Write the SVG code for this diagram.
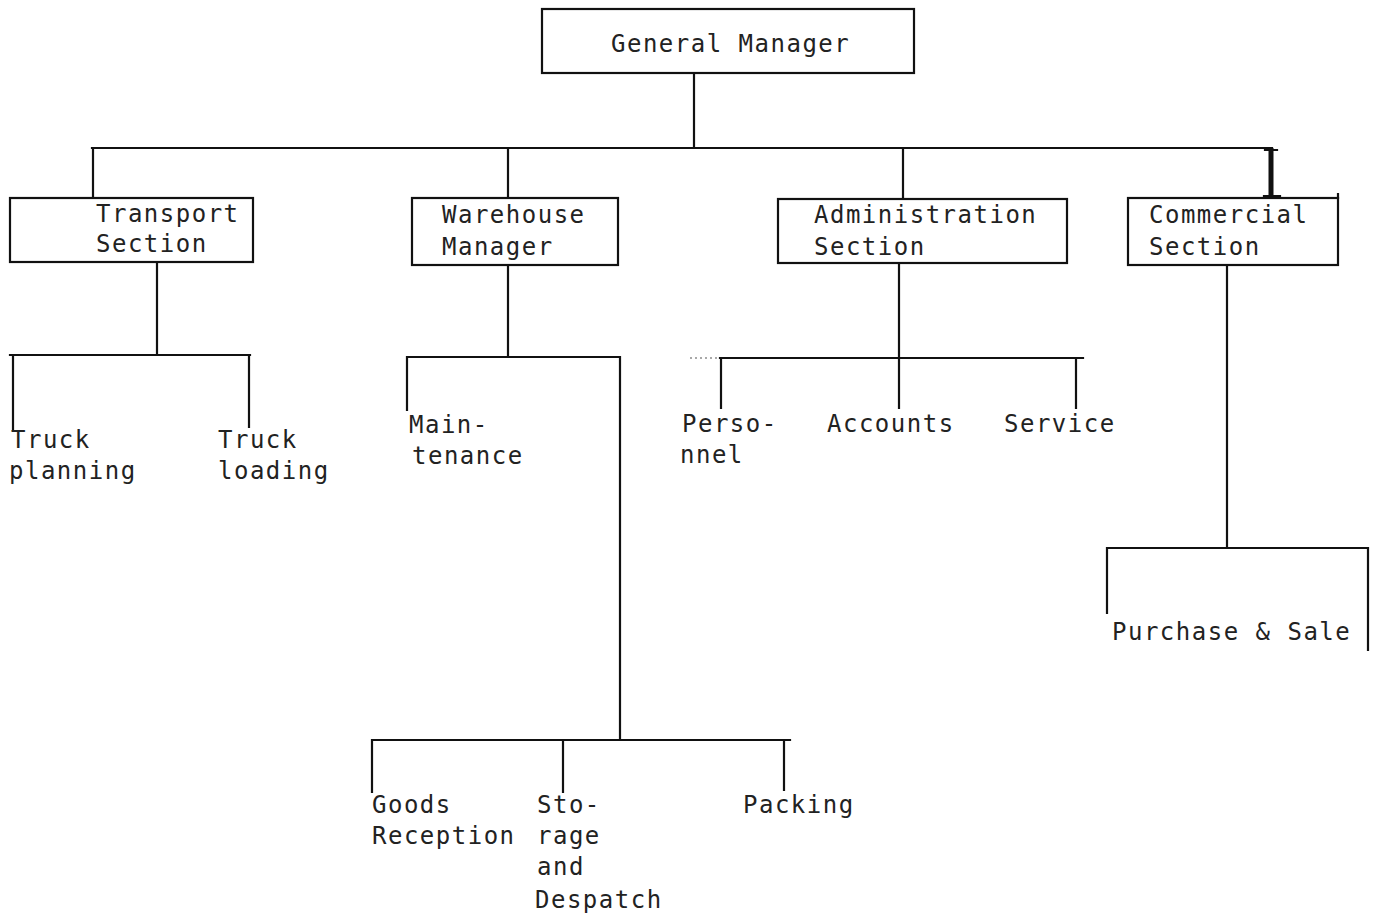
<svg xmlns="http://www.w3.org/2000/svg" width="1374" height="922" viewBox="0 0 1374 922">
<style>
.box{fill:none;stroke:#111;stroke-width:2.2}
.ln{fill:none;stroke:#111;stroke-width:2.2;stroke-linecap:square}
.t{font-family:"DejaVu Sans Mono","Liberation Mono",monospace;font-size:24px;letter-spacing:1.5px;fill:#222}
</style>
<rect width="1374" height="922" fill="#fff"/>
<g id="connectors">
<path class="ln" d="M694 73V148M92 148H1272M93 148V197M508 148V197M903 148V199"/>
<path d="M1271 148V198" stroke="#111" stroke-width="5"/>
<path class="ln" d="M1265 150H1277M1264 196H1280M1338 194V198"/>
<path class="ln" d="M157 262V355M10 355H250M13 355V430M249 355V427"/>
<path class="ln" d="M508 265V357M407 357H620M407 357V410M620 357V740"/>
<path class="ln" d="M372 740H790M372 740V792M563 740V792M784 740V790"/>
<path class="ln" d="M899 263V358M720 358H1083M721 358V408M899 358V408M1076 358V408"/>
<path d="M690 358H720" stroke="#555" stroke-width="1.2" stroke-dasharray="2 3"/>
<path class="ln" d="M1227 265V548M1107 548H1368M1107 548V613M1368 548V650"/>
</g>
<g id="general-manager"><rect class="box" x="542" y="9" width="372" height="64"/><text class="t" x="611" y="52">General Manager</text></g>
<g id="transport"><rect class="box" x="10" y="198" width="243" height="64"/><text class="t" x="96" y="222">Transport</text><text class="t" x="96" y="252">Section</text></g>
<g id="warehouse"><rect class="box" x="412" y="198" width="206" height="67"/><text class="t" x="442" y="223">Warehouse</text><text class="t" x="442" y="255">Manager</text></g>
<g id="administration"><rect class="box" x="778" y="199" width="289" height="64"/><text class="t" x="814" y="223">Administration</text><text class="t" x="814" y="255">Section</text></g>
<g id="commercial"><rect class="box" x="1128" y="198" width="210" height="67"/><text class="t" x="1149" y="223">Commercial</text><text class="t" x="1149" y="255">Section</text></g>
<g id="truck-planning"><text class="t" x="11" y="448">Truck</text><text class="t" x="9" y="479">planning</text></g>
<g id="truck-loading"><text class="t" x="218" y="448">Truck</text><text class="t" x="218" y="479">loading</text></g>
<g id="maintenance"><text class="t" x="409" y="433">Main-</text><text class="t" x="412" y="464">tenance</text></g>
<g id="personnel"><text class="t" x="682" y="432">Perso-</text><text class="t" x="680" y="463">nnel</text></g>
<g id="accounts"><text class="t" x="827" y="432">Accounts</text></g>
<g id="service"><text class="t" x="1004" y="432">Service</text></g>
<g id="purchase-sale"><text class="t" x="1112" y="640">Purchase &amp; Sale</text></g>
<g id="goods-reception"><text class="t" x="372" y="813">Goods</text><text class="t" x="372" y="844">Reception</text></g>
<g id="storage"><text class="t" x="537" y="813">Sto-</text><text class="t" x="537" y="844">rage</text><text class="t" x="537" y="875">and</text><text class="t" x="535" y="908">Despatch</text></g>
<g id="packing"><text class="t" x="743" y="813">Packing</text></g>
</svg>
